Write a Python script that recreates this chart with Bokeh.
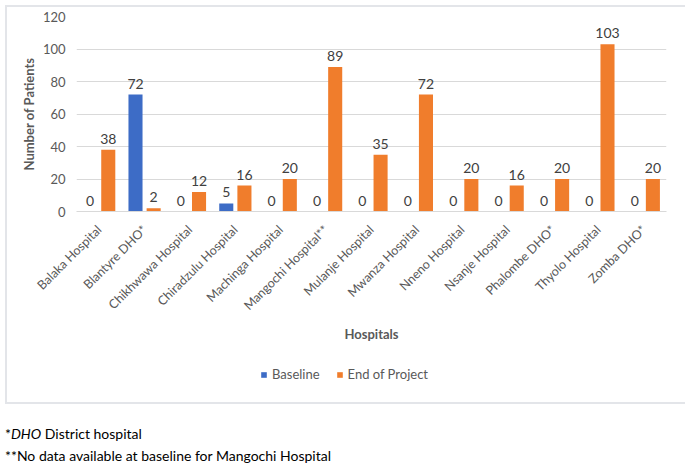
import math
from bokeh.plotting import figure
from bokeh.models import (ColumnDataSource, FactorRange, FixedTicker, Legend, LegendItem, Div, Range1d)
from bokeh.transform import dodge
from bokeh.layouts import column
from bokeh.embed import file_html
from bokeh.resources import INLINE
from bokeh.core.properties import value

hospitals = ["Balaka Hospital", "Blantyre DHO*", "Chikhwawa Hospital", "Chiradzulu Hospital",
             "Machinga Hospital", "Mangochi Hospital**", "Mulanje Hospital", "Mwanza Hospital",
             "Nneno Hospital", "Nsanje Hospital", "Phalombe DHO*", "Thyolo Hospital", "Zomba DHO*"]
baseline = [0, 72, 0, 5, 0, 0, 0, 0, 0, 0, 0, 0, 0]
end_of_project = [38, 2, 12, 16, 20, 89, 35, 72, 20, 16, 20, 103, 20]
series_names = ["Baseline", "End of Project"]
y_ticks = [0, 20, 40, 60, 80, 100, 120]

FONT = "Lato"
GREY = "#595959"
BLUE = "#3d6cc6"
ORANGE = "#f07d2c"

src = ColumnDataSource(dict(
    hosp=hospitals,
    baseline=baseline,
    end=end_of_project,
    baseline_txt=[str(v) for v in baseline],
    end_txt=[str(v) for v in end_of_project],
))

p = figure(x_range=FactorRange(factors=hospitals, range_padding=0),
           y_range=Range1d(0, 120),
           width=683, height=359, output_backend="svg", toolbar_location=None,
           min_border_left=76, min_border_right=17, min_border_top=16, min_border_bottom=148)

p.vbar(x=dodge("hosp", -0.2, range=p.x_range), top="baseline", width=0.31, source=src,
       fill_color=BLUE, line_color=None)
p.vbar(x=dodge("hosp", 0.2, range=p.x_range), top="end", width=0.31, source=src,
       fill_color=ORANGE, line_color=None)

p.text(x=dodge("hosp", -0.2, range=p.x_range), y="baseline", text="baseline_txt", source=src,
       text_align="center", text_baseline="bottom", y_offset=-6,
       text_font=value(FONT), text_font_size="14px", text_color="#404040")
p.text(x=dodge("hosp", 0.2, range=p.x_range), y="end", text="end_txt", source=src,
       text_align="center", text_baseline="bottom", y_offset=-6,
       text_font=value(FONT), text_font_size="14px", text_color="#404040")

p.outline_line_color = None
p.xgrid.grid_line_color = None
p.ygrid.grid_line_color = "#d9d9d9"
p.ygrid.ticker = FixedTicker(ticks=y_ticks)

p.yaxis.ticker = FixedTicker(ticks=y_ticks)
p.yaxis.axis_line_color = None
p.yaxis.major_tick_line_color = None
p.yaxis.minor_tick_line_color = None
p.yaxis.major_label_text_font = FONT
p.yaxis.major_label_text_font_size = "13px"
p.yaxis.major_label_text_color = GREY
p.yaxis.major_label_standoff = 5
p.yaxis.axis_label = "Number of Patients"
p.yaxis.axis_label_text_font = FONT
p.yaxis.axis_label_text_font_size = "13px"
p.yaxis.axis_label_text_font_style = "bold"
p.yaxis.axis_label_text_color = GREY
p.yaxis.axis_label_standoff = 3

p.xaxis.axis_line_color = "#d9d9d9"
p.xaxis.major_tick_line_color = None
p.xaxis.minor_tick_line_color = None
p.xaxis.major_label_orientation = math.pi / 4
p.xaxis.major_label_text_font = FONT
p.xaxis.major_label_text_font_size = "12.5px"
p.xaxis.major_label_text_color = GREY
p.xaxis.major_label_standoff = 10
p.xaxis.axis_label = "Hospitals"
p.xaxis.axis_label_text_font = FONT
p.xaxis.axis_label_text_font_size = "13px"
p.xaxis.axis_label_text_font_style = "bold"
p.xaxis.axis_label_text_color = GREY
p.xaxis.axis_label_standoff = 5

# legend strip (own small figure so that the legend is not clipped)
lg = figure(width=683, height=38, output_backend="svg", toolbar_location=None,
            x_range=Range1d(0, 1), y_range=Range1d(0, 1), min_border=0)
lg.axis.visible = False
lg.grid.visible = False
lg.outline_line_color = None
e = ColumnDataSource(dict(x=[0.5], top=[0], bottom=[0]))
l1 = lg.vbar(x="x", top="top", bottom="bottom", width=0.0, source=e,
             fill_color=BLUE, line_color=None)
l2 = lg.vbar(x="x", top="top", bottom="bottom", width=0.0, source=e,
             fill_color=ORANGE, line_color=None)
legend = Legend(items=[LegendItem(label=series_names[0], renderers=[l1]),
                       LegendItem(label=series_names[1], renderers=[l2])],
                orientation="horizontal", location=(184, 15))
legend.border_line_color = None
legend.background_fill_alpha = 0
legend.label_text_font = FONT
legend.label_text_font_size = "13px"
legend.label_text_color = GREY
legend.glyph_width = 7
legend.glyph_height = 7
legend.label_standoff = 5
legend.spacing = 16
legend.margin = 0
legend.padding = 0
lg.add_layout(legend, "center")

chart = column(p, lg, spacing=0)

notes_html = (
    '<div style="position:relative; padding-top:21px;">'
    '<div style="position:absolute; left:0px; top:-397px; width:684px; height:399px; '
    'border:2px solid #e3e5e9; box-sizing:border-box; pointer-events:none;"></div>'
    '*<i>DHO</i> District hospital<br>**No data available at baseline for Mangochi Hospital'
    '</div>'
)
notes = Div(text=notes_html, width=683, height=64,
            styles={"font-family": "Lato", "font-size": "14px", "line-height": "22px",
                    "color": "#000000", "overflow": "visible"})

layout = column(chart, notes, spacing=0)
open("out.html", "w").write(file_html(layout, INLINE))
